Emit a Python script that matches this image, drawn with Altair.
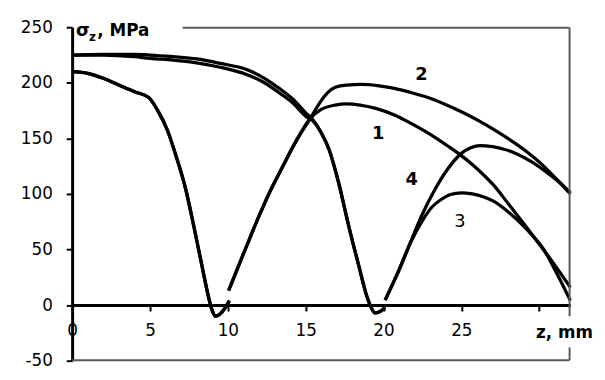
import altair as alt
import pandas as pd

# ---------------- data ----------------
X_TICKS = [0, 5, 10, 15, 20, 25, 30]
Y_TICKS = [-50, 0, 50, 100, 150, 200, 250]

# curves 1 & 2, first branch (shared, drops to zero near z = 9)
Z12A = [0, 1, 2, 3, 4, 4.9, 5.5, 6.1, 6.7, 7.3, 7.8, 8.3, 8.8, 9.0, 9.2, 9.5, 9.8, 10.1]
S12A = [210, 208.5, 204, 198, 192, 187, 175, 158, 133, 104, 72, 38, 5, -5, -10, -8, -3, 4]

# curve 1, second branch
Z1B = [10.05, 11, 12, 12.7, 13.5, 14.4, 15.3, 16, 16.9, 17.6, 18.5, 19.5, 20.7, 21.5, 22.4,
       23.3, 24.2, 25, 25.7, 26.4, 27, 28, 29, 30, 31, 32]
S1B = [13, 46, 80, 102, 124, 148, 168, 176, 180, 181, 180, 177, 171, 165.5, 158.5,
       151, 142.5, 134.5, 126.5, 117.5, 109, 91.5, 73.5, 55, 36, 16]

# curve 2, second branch
Z2B = [10.05, 11, 12, 12.7, 13.5, 14.4, 15.3, 15.9, 16.4, 16.9, 17.6, 18.6, 19.6, 20.7, 21.7,
       22.8, 23.9, 25, 26.1, 27.2, 28.2, 29.2, 30.1, 31, 32]
S2B = [13, 46, 80, 102, 124, 148, 168, 182, 191, 196, 198, 198.5, 197.5, 195, 191.5,
       187, 181, 174, 166, 157, 148, 138, 127.5, 115, 101]

# curves 3 & 4, first branch (drops to zero near z = 19.5)
Z34A = [0, 2, 4, 5, 6.5, 8, 9.5, 11.2, 12.3, 13.3, 14.2, 15, 15.45, 16, 16.5, 17.1, 17.75,
        18.4, 18.95, 19.2, 19.45, 19.75, 20.1]
S4A = [225, 225.5, 225.5, 225, 223.5, 221.5, 217.5, 212, 204.5, 195, 185, 173, 167, 155, 140,
       111, 72, 36, 7, -2, -7, -6, -2]
S3A = [225, 225, 223.5, 222, 220.5, 218, 214, 207.5, 200.5, 191, 181.5, 170, 166, 155, 140,
       111, 72, 36, 7, -2, -7, -6, -2]

# curve 4, second branch
Z4B = [20.1, 21, 21.8, 22.5, 23.3, 24.1, 25, 25.6, 26.2, 27, 27.8, 28.5, 29.5, 30.7, 31.4, 32]
S4B = [4.5, 32, 59, 82, 104, 122, 136.5, 141.5, 143.5, 142.5, 140, 136.5, 129, 117, 109, 100]

# curve 3, second branch
Z3B = [20.1, 21, 21.8, 22.5, 23.1, 23.7, 24.3, 25, 25.7, 26.4, 27, 28, 29, 29.6, 30.2, 31, 32]
S3B = [4.5, 31.5, 58, 76, 88, 95, 99.5, 101, 100, 97.5, 94, 84, 71, 62, 52, 32, 4]

# curve number labels
LABEL_TEXT = ["1", "2", "4"]
LABEL_Z = [19.65, 22.43, 21.8]
LABEL_S = [154, 207.4, 112.4]
LABEL3_TEXT = ["3"]
LABEL3_Z = [24.9]
LABEL3_S = [75]

# frame pieces (gray border of the plot area): key, z, s, order
FRAME_KEY = ["top", "top", "right1", "right1", "right2", "right2", "bottom", "bottom"]
FRAME_Z = [7.1, 31.95, 31.95, 31.95, 31.95, 31.95, 0, 31.95]
FRAME_S = [249.6, 249.6, 249.6, -10, -38, -49.6, -49.6, -49.6]
FRAME_ORD = [0, 1, 0, 1, 0, 1, 0, 1]

# ---------------- build tables ----------------
rows = []


def add(key, zs, ss):
    for z, s in zip(zs, ss):
        rows.append({"key": key, "z": z, "s": s})


add("1a", Z12A, S12A)
add("2a", Z12A, S12A)
add("1b", Z1B, S1B)
add("2b", Z2B, S2B)
add("3a", Z34A, S3A)
add("4a", Z34A, S4A)
add("3b", Z3B, S3B)
add("4b", Z4B, S4B)
df = pd.DataFrame(rows)

frame_df = pd.DataFrame({"fkey": FRAME_KEY, "z": FRAME_Z, "s": FRAME_S, "o": FRAME_ORD})
lab_df = pd.DataFrame({"t": LABEL_TEXT, "z": LABEL_Z, "s": LABEL_S})
lab3_df = pd.DataFrame({"t": LABEL3_TEXT, "z": LABEL3_Z, "s": LABEL3_S})
sig_df = pd.DataFrame({"t": ["σ"], "z": [0.25], "s": [246.5]})
sub_df = pd.DataFrame({"t": ["z"], "z": [1.08], "s": [241]})
mpa_df = pd.DataFrame({"t": [", MPa"], "z": [1.62], "s": [246.5]})
zmm_df = pd.DataFrame({"t": ["z, mm"], "z": [29.8], "s": [-25]})

# ---------------- chart ----------------
FONT = "DejaVu Sans"
W, H = 505, 338
zero_off = -(H * 50.0 / 300.0)

xs = alt.Scale(domain=[0, 32], nice=False, zero=False)
ys = alt.Scale(domain=[-50, 250], nice=False, zero=False)

x_axis = alt.Axis(values=X_TICKS, labelExpr="datum.value == 30 ? '' : '' + datum.value",
                  offset=zero_off, domainColor="black", domainWidth=3, tickColor="black",
                  tickWidth=2, tickSize=6, labelFont=FONT, labelFontSize=17, labelColor="black",
                  labelPadding=12, labelFlush=False, labelOverlap=False, grid=False, title="")
y_axis = alt.Axis(values=Y_TICKS, labelExpr="'' + datum.value",
                  domainColor="black", domainWidth=3, tickColor="black",
                  tickWidth=2, tickSize=6, labelFont=FONT, labelFontSize=17, labelColor="black",
                  labelPadding=14, labelFlush=False, labelOverlap=False, grid=False, title="")

X = alt.X("z:Q", scale=xs, axis=x_axis)
Y = alt.Y("s:Q", scale=ys, axis=y_axis)

lines = alt.Chart(df).mark_line(color="black", strokeWidth=3.3, interpolate="monotone").encode(
    x=X, y=Y, detail="key:N")

frame = alt.Chart(frame_df).mark_line(color="#5a5a5a", strokeWidth=2).encode(
    x=alt.X("z:Q", scale=xs), y=alt.Y("s:Q", scale=ys), detail="fkey:N", order="o:Q")


def text_layer(d, size, weight, align):
    return alt.Chart(d).mark_text(font=FONT, fontSize=size, fontWeight=weight, align=align,
                                  baseline="middle", color="black").encode(
        x=alt.X("z:Q", scale=xs), y=alt.Y("s:Q", scale=ys), text="t:N")


labels = text_layer(lab_df, 18, "bold", "center")
labels3 = text_layer(lab3_df, 18, "normal", "center")
sig = text_layer(sig_df, 18, "bold", "left")
sub = text_layer(sub_df, 12, "bold", "left")
mpa = text_layer(mpa_df, 17, "bold", "left")
zmm = text_layer(zmm_df, 17, "bold", "left")

chart = alt.layer(lines, frame, labels, labels3, sig, sub, mpa, zmm).properties(
    width=W, height=H,
    autosize=alt.AutoSizeParams(type="none"),
    padding={"left": 65, "top": 17, "right": 27, "bottom": 10},
).configure_view(stroke="transparent")

chart.save("out.html", embed_options={"renderer": "svg", "actions": False})
